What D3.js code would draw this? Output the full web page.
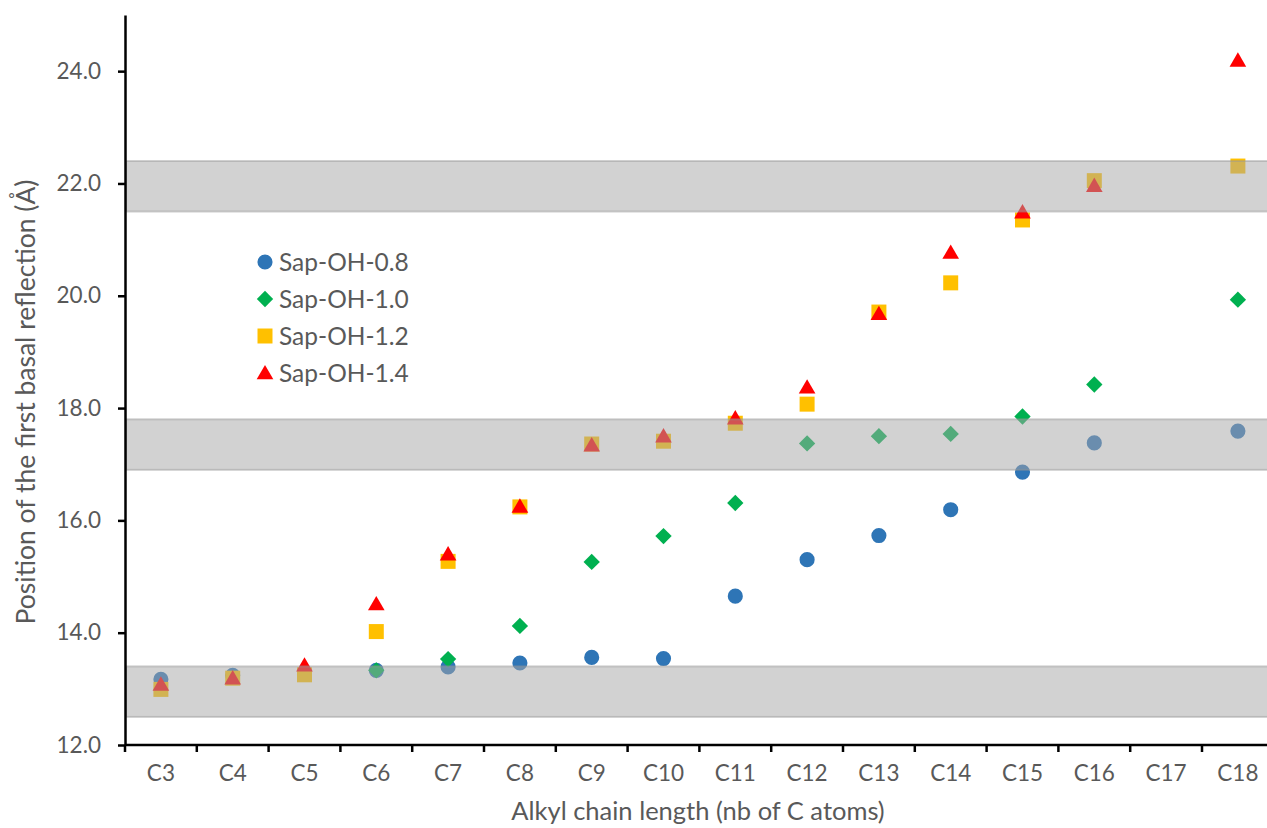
<!DOCTYPE html>
<html>
<head>
<meta charset="utf-8">
<script src="https://cdn.jsdelivr.net/npm/d3@7"></script>
<style>
  html, body { margin: 0; padding: 0; background: #fff; }
  svg { display: block; font-family: Lato, "Open Sans", sans-serif; }
</style>
</head>
<body>
<svg id="chart" width="1267" height="828"></svg>
<script>
// Alkyl chain lengths on the x axis
const categories = ["C3","C4","C5","C6","C7","C8","C9","C10","C11","C12","C13","C14","C15","C16","C17","C18"];

// d001 position (Å) per sample; null where nothing was measured
const sapOH08 = [13.17, 13.24, 13.26, 13.33, 13.39, 13.46, 13.56, 13.54, 14.65, 15.30, 15.73, 16.19, 16.86, 17.38, null, 17.59];
const sapOH10 = [null, null, null, 13.33, 13.53, 14.12, 15.26, 15.72, 16.31, 17.37, 17.50, 17.54, 17.85, 18.42, null, 19.93];
const sapOH12 = [12.99, 13.19, 13.25, 14.02, 15.27, 16.24, 17.36, 17.41, 17.73, 18.07, 19.71, 20.23, 21.35, 22.05, null, 22.31];
const sapOH14 = [13.08, 13.19, 13.42, 14.51, 15.40, 16.25, 17.34, 17.50, 17.82, 18.37, 19.68, 20.77, 21.49, 21.96, null, 24.19];

const seriesNames = ["Sap-OH-0.8", "Sap-OH-1.0", "Sap-OH-1.2", "Sap-OH-1.4"];

// shaded ranges of characteristic basal spacings (Å)
const bandRanges = [[12.5, 13.4], [16.9, 17.8], [21.5, 22.4]];

const yTicks = [12, 14, 16, 18, 20, 22, 24];

const series = [
  { name: seriesNames[0], values: sapOH08, color: "#2E75B6", symbol: d3.symbolCircle,   size: 180 },
  { name: seriesNames[1], values: sapOH10, color: "#00B050", symbol: d3.symbolDiamond2, size: 170 },
  { name: seriesNames[2], values: sapOH12, color: "#FFC000", symbol: d3.symbolSquare,   size: 225 },
  { name: seriesNames[3], values: sapOH14, color: "#FF0000", symbol: d3.symbolTriangle, size: 120 }
];

const svg = d3.select("#chart");
const plotLeft = 125, plotTop = 15, plotBottom = 745, plotRight = 1267;

const x = d3.scaleBand().domain(categories).range([plotLeft, plotLeft + 16 * 71.8]).padding(0);
const y = d3.scaleLinear().domain([12, 25]).range([plotBottom, plotTop]);

const textColor = "#595959";
const triShift = s => (s.symbol === d3.symbolTriangle ? 1.5 : 0);

// data markers
series.forEach(s => {
  const pts = categories.map((c, i) => ({ c, v: s.values[i] })).filter(d => d.v != null);
  svg.append("g").selectAll("path").data(pts).join("path")
    .attr("transform", d => `translate(${x(d.c) + x.bandwidth() / 2},${y(d.v) + triShift(s)})`)
    .attr("d", d3.symbol().type(s.symbol).size(s.size))
    .attr("fill", s.color);
});

// translucent bands drawn over the markers
svg.append("g").selectAll("rect").data(bandRanges).join("rect")
  .attr("x", plotLeft + 1)
  .attr("width", plotRight - plotLeft)
  .attr("y", d => y(d[1]))
  .attr("height", d => y(d[0]) - y(d[1]))
  .attr("fill", "rgba(165,165,165,0.5)")
  .attr("stroke", "rgba(150,150,150,0.45)")
  .attr("stroke-width", 2);

// y axis
const yAxis = svg.append("g").attr("transform", `translate(${plotLeft},0)`)
  .call(d3.axisLeft(y).tickValues(yTicks).tickFormat(d3.format(".1f")).tickSize(7).tickSizeOuter(0));
yAxis.select(".domain").attr("stroke", "#000").attr("stroke-width", 2.5);
yAxis.selectAll(".tick line").attr("stroke", "#000").attr("stroke-width", 2.5);
yAxis.selectAll(".tick text").attr("fill", textColor).attr("font-size", 22.5)
  .attr("font-family", "Lato, sans-serif").attr("x", -24);

// x axis with ticks on category boundaries
const xAxis = svg.append("g").attr("transform", `translate(0,${plotBottom})`)
  .call(d3.axisBottom(x).tickSize(0).tickSizeOuter(0));
xAxis.select(".domain").attr("stroke", "#000").attr("stroke-width", 2.5)
  .attr("d", `M${plotLeft},0H${plotRight}`);
xAxis.selectAll(".tick text").attr("fill", textColor).attr("font-size", 22.5)
  .attr("font-family", "Lato, sans-serif").attr("y", 28).attr("dy", "0.35em");
svg.append("g").selectAll("line").data(categories).join("line")
  .attr("x1", d => x(d)).attr("x2", d => x(d))
  .attr("y1", plotBottom).attr("y2", plotBottom + 7)
  .attr("stroke", "#000").attr("stroke-width", 2.5);

// axis titles
svg.append("text")
  .attr("x", 698).attr("y", 820)
  .attr("text-anchor", "middle")
  .attr("fill", textColor).attr("font-size", 25.5)
  .text("Alkyl chain length (nb of C atoms)");

svg.append("text")
  .attr("transform", "translate(35,402) rotate(-90)")
  .attr("text-anchor", "middle")
  .attr("fill", textColor).attr("font-size", 26.5)
  .text("Position of the first basal reflection (Å)");

// legend
const legend = svg.append("g");
series.forEach((s, i) => {
  const gy = 262 + i * 37;
  legend.append("path")
    .attr("transform", `translate(265,${gy + triShift(s)})`)
    .attr("d", d3.symbol().type(s.symbol).size(s.size))
    .attr("fill", s.color);
  legend.append("text")
    .attr("x", 279).attr("y", gy)
    .attr("dy", "0.35em")
    .attr("fill", textColor).attr("font-size", 24.5)
    .text(s.name);
});
</script>
</body>
</html>
